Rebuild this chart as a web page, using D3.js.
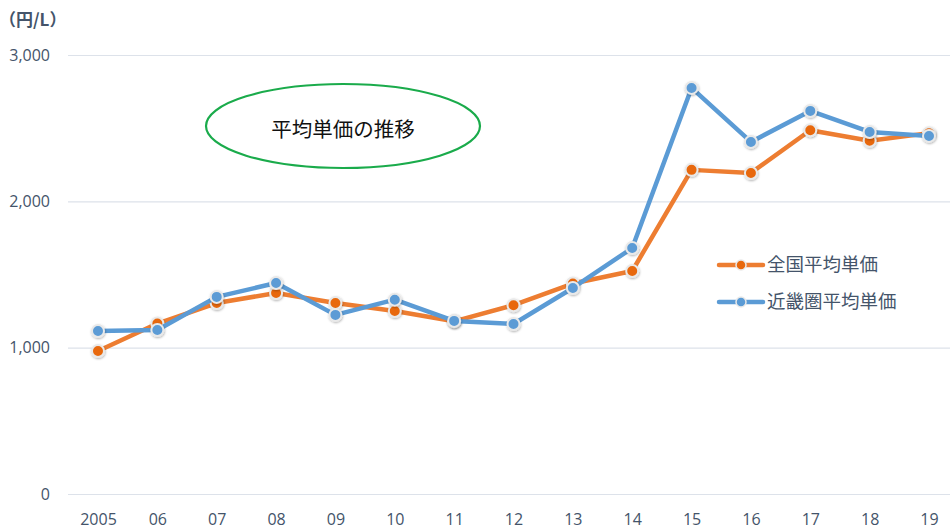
<!DOCTYPE html>
<html>
<head>
<meta charset="utf-8">
<script src="https://cdn.jsdelivr.net/npm/d3@7"></script>
<style>
  body { margin: 0; background: #fff; }
  text { font-family: "Noto Sans CJK JP", "Noto Sans", sans-serif; }
</style>
</head>
<body>
<div id="chart"></div>
<script>
// data
const years = ["2005","06","07","08","09","10","11","12","13","14","15","16","17","18","19"];
const national = [977,1165,1305,1374,1305,1251,1180,1290,1438,1524,2215,2194,2486,2414,2466];
const kinki = [1114,1121,1347,1442,1224,1328,1183,1162,1408,1681,2775,2406,2618,2474,2447];
const seriesNames = ["全国平均単価","近畿圏平均単価"];
const yTicks = [0,1000,2000,3000];

async function draw() {

//*************************1. Set up Measurement
  let dimensions = {
    width: 950,
    height: 531,
    margin: { top: 55, right: 0, bottom: 37, left: 68 }
  }
  dimensions.boundedWidth = dimensions.width - dimensions.margin.left - dimensions.margin.right
  dimensions.boundedHeight = dimensions.height - dimensions.margin.top - dimensions.margin.bottom

//*************************2. Draw Canvas
  const wrapper = d3.select("#chart")
    .append("svg")
    .attr("width", dimensions.width)
    .attr("height", dimensions.height)

  const defs = wrapper.append("defs")
  const shadow = defs.append("filter").attr("id", "shadow")
    .attr("x", "-50%").attr("y", "-50%").attr("width", "200%").attr("height", "200%")
  shadow.append("feDropShadow")
    .attr("dx", 0.5).attr("dy", 1).attr("stdDeviation", 1)
    .attr("flood-color", "#000").attr("flood-opacity", 0.3)

  const bounds = wrapper.append("g")
    .attr("transform", `translate(${dimensions.margin.left},${dimensions.margin.top})`)

//**************************3. Scales
  const xScale = d3.scalePoint()
    .domain(years)
    .range([30, 861])

  const yScale = d3.scaleLinear()
    .domain([0, 3000])
    .range([dimensions.boundedHeight, 0])

//**************************4. Axes / grid
  const yAxis = bounds.append("g")
    .call(d3.axisLeft(yScale).tickValues(yTicks).tickFormat(d3.format(",")).tickSize(-dimensions.boundedWidth))
  yAxis.select(".domain").remove()
  yAxis.selectAll(".tick line").attr("stroke", "#dde2ea").attr("stroke-width", 1.2)
  yAxis.selectAll(".tick text")
    .attr("x", -18)
    .attr("fill", "#44546a")
    .style("font-size", "16px")
    .style("font-family", "'Open Sans', sans-serif")

  const xAxis = bounds.append("g")
    .attr("transform", `translate(0,${dimensions.boundedHeight})`)
    .call(d3.axisBottom(xScale).tickSize(0))
  xAxis.select(".domain").remove()
  xAxis.selectAll(".tick text")
    .attr("y", 20)
    .attr("fill", "#44546a")
    .style("font-size", "16px")
    .style("font-family", "'Open Sans', sans-serif")

  wrapper.append("text")
    .attr("x", -1).attr("y", 26)
    .attr("fill", "#44546a")
    .style("font-size", "17px")
    .style("font-weight", "bold")
    .text("（円/L）")

//**************************5. Lines and dots
  const series = [
    { name: seriesNames[0], values: national, line: "#ed7d31", dot: "#e8680c" },
    { name: seriesNames[1], values: kinki, line: "#5b9bd5", dot: "#5b9bd5" }
  ]

  const lineGen = d3.line()
    .x((d, i) => xScale(years[i]))
    .y(d => yScale(d))

  series.forEach(s => {
    const g = bounds.append("g")
    g.append("path")
      .datum(s.values)
      .attr("d", lineGen)
      .attr("fill", "none")
      .attr("stroke", s.line)
      .attr("stroke-width", 4.5)
      .attr("stroke-linejoin", "round")
    g.selectAll("circle")
      .data(s.values)
      .join("circle")
      .attr("cx", (d, i) => xScale(years[i]))
      .attr("cy", d => yScale(d))
      .attr("r", 6)
      .attr("fill", s.dot)
      .attr("stroke", "#e9e9e9")
      .attr("stroke-width", 2)
      .attr("filter", "url(#shadow)")
  })

//**************************6. Legend
  const legend = wrapper.append("g")
  series.forEach((s, i) => {
    const y = 265 + i * 37
    legend.append("line")
      .attr("x1", 719).attr("x2", 763).attr("y1", y).attr("y2", y)
      .attr("stroke", s.line).attr("stroke-width", 4.5).attr("stroke-linecap", "round")
    legend.append("circle")
      .attr("cx", 741).attr("cy", y).attr("r", 5)
      .attr("fill", s.dot).attr("stroke", "#e9e9e9").attr("stroke-width", 1.5)
    legend.append("text")
      .attr("x", 767).attr("y", y)
      .attr("dy", "0.35em")
      .attr("fill", "#44546a")
      .style("font-size", "18.5px")
      .text(s.name)
  })

//**************************7. Title ellipse
  wrapper.append("ellipse")
    .attr("cx", 343).attr("cy", 126).attr("rx", 137).attr("ry", 42)
    .attr("fill", "none").attr("stroke", "#1aab4b").attr("stroke-width", 2.2)
  wrapper.append("text")
    .attr("x", 343).attr("y", 130)
    .attr("dy", "0.35em")
    .attr("text-anchor", "middle")
    .attr("fill", "#111")
    .style("font-size", "20.5px")
    .text("平均単価の推移")

} draw()
</script>
</body>
</html>
